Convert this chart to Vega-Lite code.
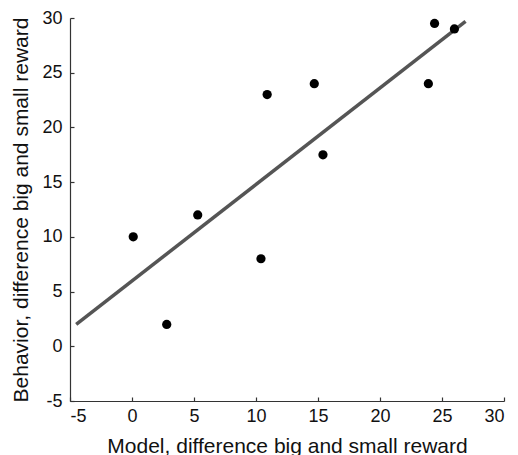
{
  "$schema": "https://vega.github.io/schema/vega-lite/v6.json",
  "autosize": {"type": "none"},
  "width": 434,
  "height": 383,
  "padding": {"left": 70, "top": 18, "right": 14, "bottom": 54},
  "background": "white",
  "config": {
    "view": {"stroke": null},
    "axis": {
      "grid": false,
      "domainColor": "#333",
      "domainWidth": 1.2,
      "tickColor": "#333",
      "tickWidth": 1.2,
      "tickSize": -4,
      "labelFont": "Liberation Sans",
      "labelFontSize": 18,
      "labelColor": "#111",
      "labelExpr": "'' + datum.value",
      "titleFont": "Liberation Sans",
      "titleFontSize": 21,
      "titleFontWeight": "normal",
      "titleColor": "#111",
      "titleBaseline": "alphabetic"
    }
  },
  "datasets": {
    "pts": [
      {"model": 0.1, "behavior": 10},
      {"model": 2.8, "behavior": 2},
      {"model": 5.3, "behavior": 12},
      {"model": 10.4, "behavior": 8},
      {"model": 10.9, "behavior": 23},
      {"model": 14.7, "behavior": 24},
      {"model": 15.4, "behavior": 17.5},
      {"model": 23.9, "behavior": 24},
      {"model": 24.4, "behavior": 29.5},
      {"model": 26.0, "behavior": 29}
    ],
    "fit": [
      {"model": -4.5, "behavior": 2.0},
      {"model": 26.9, "behavior": 29.7}
    ]
  },
  "layer": [
    {
      "data": {"name": "fit"},
      "mark": {"type": "line", "color": "#555", "strokeWidth": 3.5},
      "encoding": {
        "x": {"field": "model", "type": "quantitative"},
        "y": {"field": "behavior", "type": "quantitative"}
      }
    },
    {
      "data": {"name": "pts"},
      "mark": {"type": "point", "filled": true, "color": "#000", "opacity": 1, "size": 85, "shape": "circle"},
      "encoding": {
        "x": {
          "field": "model", "type": "quantitative",
          "scale": {"domain": [-5, 30], "nice": false, "zero": false},
          "axis": {"values": [-5, 0, 5, 10, 15, 20, 25, 30], "title": "Model, difference big and small reward", "labelPadding": 10, "titleY": 51}
        },
        "y": {
          "field": "behavior", "type": "quantitative",
          "scale": {"domain": [-5, 30], "nice": false, "zero": false},
          "axis": {"values": [-5, 0, 5, 10, 15, 20, 25, 30], "title": "Behavior, difference big and small reward", "labelPadding": 12, "titleX": -43}
        }
      }
    }
  ]
}
